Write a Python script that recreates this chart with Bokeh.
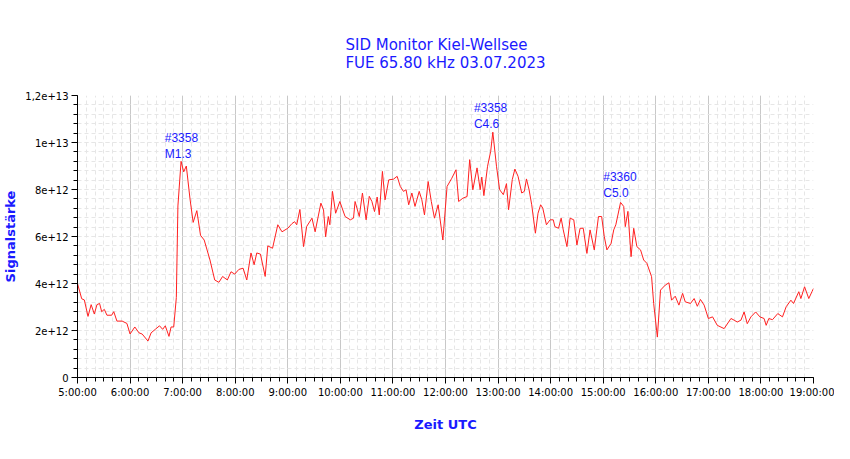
from bokeh.plotting import figure
from bokeh.models import FixedTicker, Title
from bokeh.embed import file_html
from bokeh.resources import INLINE

hours = [5.00,5.08,5.13,5.20,5.26,5.32,5.37,5.42,5.46,5.51,5.56,5.65,5.69,5.75,5.85,5.94,6.00,6.09,6.17,6.23,6.34,6.40,6.48,6.56,6.62,6.67,6.74,6.78,6.83,6.88,6.91,6.97,7.02,7.07,7.14,7.20,7.27,7.34,7.41,7.52,7.61,7.69,7.76,7.85,7.92,7.99,8.07,8.15,8.22,8.30,8.36,8.41,8.48,8.57,8.62,8.71,8.81,8.89,
         9.00,9.08,9.13,9.17,9.23,9.30,9.36,9.46,9.52,9.63,9.68,9.72,9.77,9.80,9.85,9.91,9.99,10.09,10.19,10.25,10.28,10.36,10.42,10.49,10.55,10.60,10.65,10.70,10.74,10.80,10.85,10.92,11.01,11.08,11.14,11.20,11.25,11.30,11.36,11.42,11.50,11.55,11.60,11.67,11.73,11.79,11.86,11.95,12.03,12.12,12.20,12.25,12.33,12.41,
         12.46,12.52,12.60,12.66,12.69,12.73,12.80,12.86,12.90,12.97,13.03,13.10,13.16,13.20,13.27,13.32,13.38,13.45,13.50,13.54,13.59,13.64,13.71,13.76,13.81,13.85,13.92,13.99,14.05,14.08,14.15,14.20,14.24,14.31,14.37,14.44,14.50,14.56,14.62,14.69,14.75,14.83,14.91,14.97,15.02,15.07,15.15,15.20,15.24,15.33,15.39,15.42,15.47,15.53,15.58,15.64,15.71,15.77,15.83,15.92,15.96,16.03,16.09,16.18,16.25,16.30,16.37,16.44,16.51,16.56,16.66,16.73,16.79,16.85,16.92,17.00,17.08,17.17,17.30,17.43,17.49,17.55,17.62,17.68,17.74,17.81,17.90,17.98,18.06,18.10,18.15,18.22,18.32,18.41,18.48,18.57,18.62,18.72,18.76,18.83,18.91,18.97,19.00]
signal = [4.0,3.35,3.3,2.6,3.1,2.7,3.1,3.15,2.8,2.9,2.65,2.65,2.8,2.4,2.4,2.3,1.85,2.15,1.9,1.85,1.55,1.9,2.05,2.2,2.05,2.2,1.75,2.15,2.15,3.4,7.3,9.2,8.75,9.0,7.6,6.6,7.1,6.05,5.85,5.0,4.15,4.05,4.3,4.15,4.5,4.4,4.6,4.65,4.15,5.3,4.8,5.3,5.25,4.3,5.6,5.5,6.5,6.2,
          6.35,6.55,6.63,6.5,7.15,5.57,6.43,6.78,6.2,7.42,7.13,5.99,6.85,6.5,7.92,6.99,7.49,6.85,6.71,6.78,7.49,6.85,7.85,6.71,7.71,7.49,7.06,7.68,6.92,8.77,7.56,8.41,8.44,8.56,8.13,7.92,7.99,7.35,7.85,7.28,7.92,7.56,6.92,8.34,7.49,6.78,7.35,5.85,8.13,8.48,8.84,7.49,7.63,7.7,
          9.27,7.99,8.92,7.99,8.53,7.74,8.99,9.63,10.44,8.99,7.99,7.78,8.25,7.14,8.42,8.87,8.56,7.85,7.92,8.45,7.99,7.35,6.14,6.99,7.35,7.21,6.5,6.71,6.71,6.42,6.35,6.78,6.28,5.57,6.78,6.71,5.64,6.35,6.35,5.28,6.28,5.43,6.85,6.85,6.0,5.43,5.71,6.28,6.5,7.45,7.28,6.42,7.07,5.14,6.35,5.57,5.43,5.0,4.86,4.29,3.15,1.72,3.72,3.93,4.03,3.29,3.46,3.08,3.58,3.22,3.15,3.36,3.03,3.32,3.08,2.51,2.58,2.22,2.08,2.51,2.44,2.36,2.44,2.79,2.29,2.58,2.79,2.58,2.51,2.22,2.51,2.46,2.72,2.58,3.01,3.29,3.15,3.65,3.36,3.86,3.36,3.65,3.79]

x_ticks = [5,6,7,8,9,10,11,12,13,14,15,16,17,18,19]
x_labels = [f"{h}:00:00" for h in x_ticks]
y_ticks = [0,2,4,6,8,10,12]
y_labels = ["0","2e+12","4e+12","6e+12","8e+12","1e+13","1,2e+13"]

ann_x = [6.66, 12.54, 15.0]
ann_y = [10.5, 11.75, 8.85]
ann_text = ["#3358\nM1.3", "#3358\nC4.6", "#3360\nC5.0"]

BLUE = "#1a1aff"
p = figure(width=834, height=443, output_backend="svg", toolbar_location=None,
           x_range=(5, 19), y_range=(0, 12),
           min_border_left=69, min_border_right=21, min_border_top=95, min_border_bottom=66)
p.outline_line_color = None
title = Title(text="SID Monitor Kiel-Wellsee\nFUE 65.80 kHz 03.07.2023", align="center", text_color=BLUE,
              text_font="DejaVu Sans", text_font_size="15px", text_font_style="normal",
              text_line_height=1.0, standoff=47)
p.add_layout(title, "above")

p.xaxis.ticker = FixedTicker(ticks=x_ticks, minor_ticks=[5 + i/6 for i in range(85)])
p.xaxis.major_label_overrides = dict(zip(x_ticks, x_labels))
p.yaxis.ticker = FixedTicker(ticks=y_ticks, minor_ticks=[i*0.4 for i in range(31)])
p.yaxis.major_label_overrides = dict(zip(y_ticks, y_labels))
for ax in (p.xaxis, p.yaxis):
    ax.major_label_text_font = "DejaVu Sans"
    ax.major_label_text_font_size = "10px"
    ax.major_label_text_color = "black"
    ax.major_label_standoff = 3
    ax.axis_line_color = "black"
    ax.major_tick_line_color = "black"
    ax.minor_tick_line_color = "black"
    ax.major_tick_out = 6
    ax.major_tick_in = 0
    ax.minor_tick_out = 4
    ax.minor_tick_in = 0
    ax.axis_label_text_color = BLUE
    ax.axis_label_text_font = "DejaVu Sans"
    ax.axis_label_text_font_size = "13px"
    ax.axis_label_text_font_style = "bold"
p.xaxis.axis_label = "Zeit UTC"
p.yaxis.axis_label = "Signalstärke"
p.xaxis.axis_label_standoff = 16
p.yaxis.axis_label_standoff = 4

p.xgrid.grid_line_color = "#c8c8c8"
p.ygrid.grid_line_color = "#e6e6e6"
p.ygrid.grid_line_dash = "4 3"
p.xgrid.minor_grid_line_color = "#e6e6e6"
p.xgrid.minor_grid_line_dash = "4 3"
p.ygrid.minor_grid_line_color = "#e6e6e6"
p.ygrid.minor_grid_line_dash = "4 3"

p.line(hours, signal, line_color="#ff2020", line_width=1)
p.text(ann_x, ann_y, text=ann_text, text_color=BLUE, text_font_size="12px",
       text_baseline="top", text_align="left", text_line_height=1.15)

open("out.html", "w").write(file_html(p, INLINE))
